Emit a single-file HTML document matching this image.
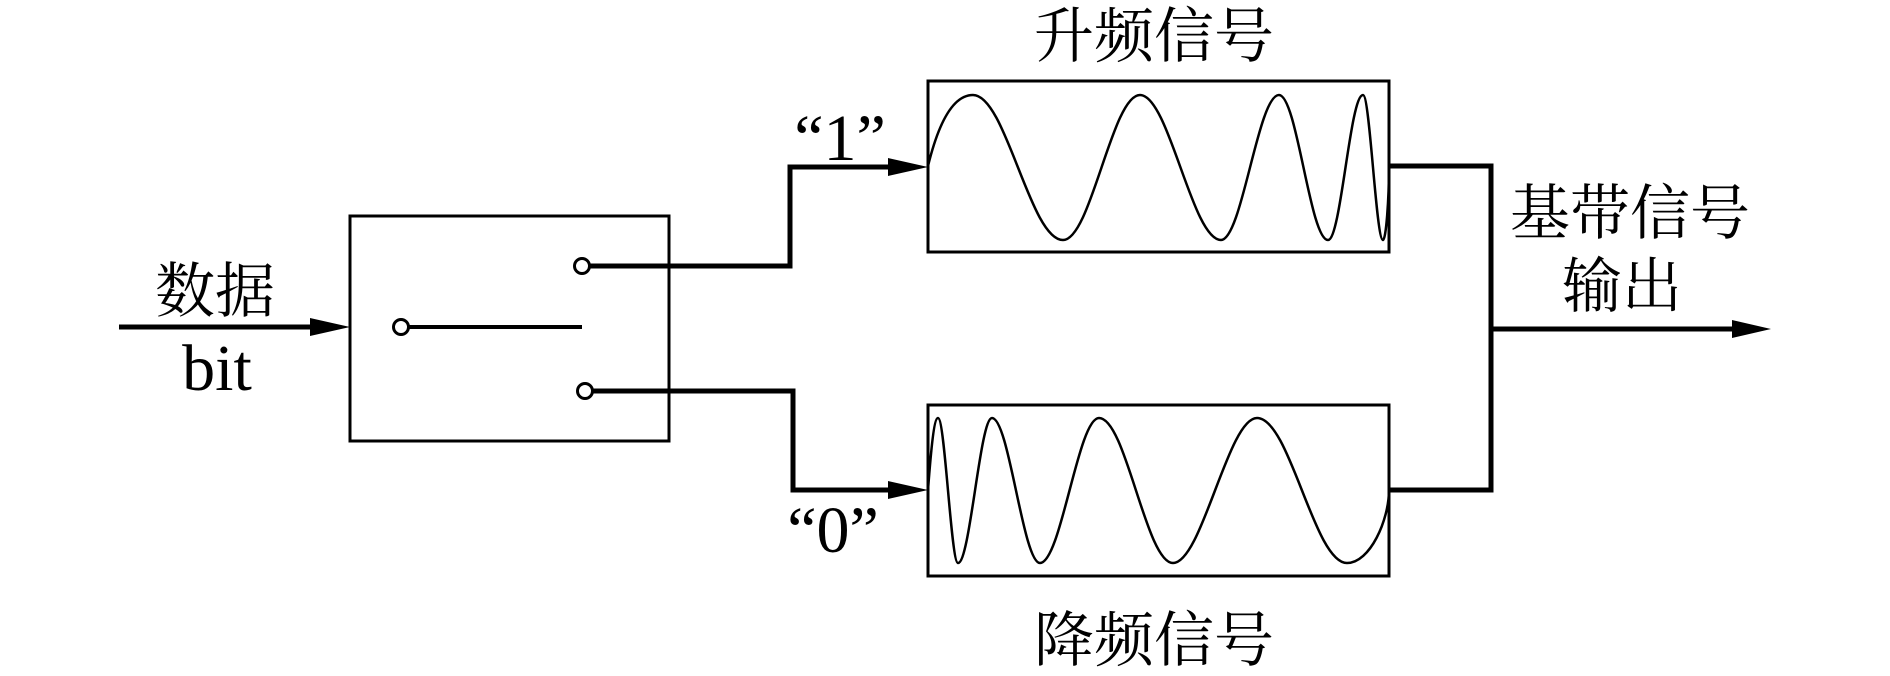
<!DOCTYPE html>
<html><head><meta charset="utf-8"><style>
html,body{margin:0;padding:0;background:#fff;}
svg{display:block;}
.cjk{font-family:"Liberation Serif","Noto Serif CJK SC","Noto Sans CJK SC",serif;font-size:60px;fill:#000;}
.lat{font-family:"Liberation Serif",serif;font-size:66px;fill:#000;}
</style></head><body>
<svg width="1890" height="676" viewBox="0 0 1890 676" xmlns="http://www.w3.org/2000/svg">
<g fill="none" stroke="#000">
  <!-- switch box -->
  <rect x="350" y="216" width="319" height="225" stroke-width="3"/>
  <!-- input -->
  <line x1="119" y1="327" x2="315" y2="327" stroke-width="5"/>
  <!-- switch internals -->
  <line x1="409" y1="327" x2="582" y2="327" stroke-width="4"/>
  <circle cx="401" cy="327" r="7.5" stroke-width="3" fill="#fff"/>
  <circle cx="582" cy="266" r="7.5" stroke-width="3" fill="#fff"/>
  <circle cx="585" cy="391" r="7.5" stroke-width="3" fill="#fff"/>
  <!-- upper path -->
  <polyline points="590,266 790,266 790,167 893,167" stroke-width="5"/>
  <!-- lower path -->
  <polyline points="593,391 793,391 793,490 893,490" stroke-width="5"/>
  <!-- boxes -->
  <rect x="928" y="81" width="461" height="171" stroke-width="3"/>
  <rect x="928" y="405" width="461" height="171" stroke-width="3"/>
  <!-- upper chirp -->
  <path stroke-width="2.5" d="M928,166 C938,125 952,95 973,95 C1006,95 1030,240 1063,240 C1091,240 1112,95 1140,95 C1169,95 1192,240 1221,240 C1242,240 1258,95 1279,95 C1297,95 1310,240 1328,240 C1341,240 1350,95 1363,95 C1370,95 1376,240 1383,240 C1386,240 1389,200 1389,166"/>
  <!-- lower chirp -->
  <path stroke-width="2.5" d="M928,490 C931,450 934,418 938,418 C945,418 951,563 958,563 C970,563 980,418 992,418 C1009,418 1023,563 1040,563 C1061,563 1078,418 1099,418 C1126,418 1146,563 1173,563 C1202,563 1228,418 1257,418 C1290,418 1314,563 1347,563 C1370,563 1389,520 1389,490"/>
  <!-- right connections -->
  <polyline points="1389,166 1491,166 1491,490 1389,490" stroke-width="5"/>
  <line x1="1491" y1="329" x2="1735" y2="329" stroke-width="5"/>
</g>
<g fill="#000">
  <polygon points="310,318 350,327 310,336"/>
  <polygon points="888,158 928,167 888,176"/>
  <polygon points="888,481 928,490 888,499"/>
  <polygon points="1732,320 1771,329 1732,338"/>
</g>
<text class="cjk" x="1154" y="57" text-anchor="middle">升频信号</text>
<text class="cjk" x="1154" y="661" text-anchor="middle">降频信号</text>
<text class="cjk" x="1630" y="234" text-anchor="middle">基带信号</text>
<text class="cjk" x="1622" y="307" text-anchor="middle">输出</text>
<text class="cjk" x="215" y="312" text-anchor="middle">数据</text>
<text class="lat" x="217" y="390" text-anchor="middle">bit</text>
<text class="lat" x="840" y="160" text-anchor="middle">“1”</text>
<text class="lat" x="833" y="552" text-anchor="middle">“0”</text>
</svg>
</body></html>
